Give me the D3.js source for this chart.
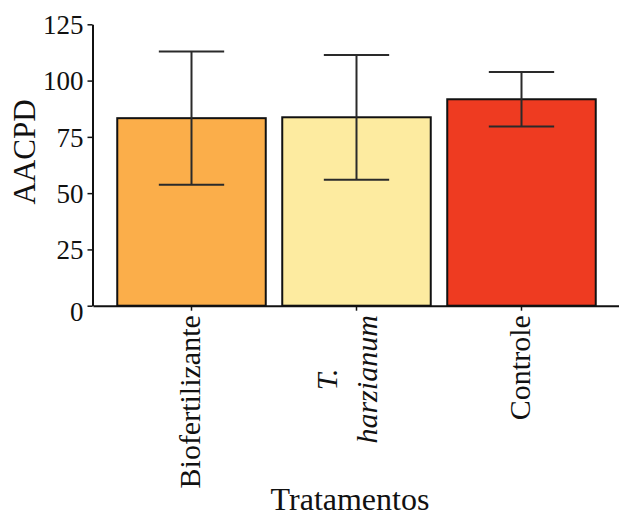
<!DOCTYPE html>
<html>
<head>
<meta charset="utf-8">
<script src="https://cdn.jsdelivr.net/npm/d3@7"></script>
<style>
  html, body { margin: 0; padding: 0; background: #ffffff; }
  svg { display: block; }
  svg text { font-family: "Liberation Serif", "DejaVu Serif", "Times New Roman", Times, serif !important; fill: #111; }
</style>
</head>
<body>
<svg id="chart" width="619" height="517"></svg>
<script>
// Treatments, mean AACPD and the error half-width for each bar
const categories = ["Biofertilizante", "T. harzianum", "Controle"];
const meanValues = [83.3, 83.7, 91.7];
const errorValues = [29.6, 27.7, 12.1];
const barColors = ["#FBAE4A", "#FDEBA0", "#EE3B21"];
// Tick label lines per category (the species name is set in italics)
const tickLabelLines = [["Biofertilizante"], ["T.", "harzianum"], ["Controle"]];
const tickLabelItalic = [false, true, false];
const yTicks = [0, 25, 50, 75, 100, 125];
const yTitle = "AACPD";
const xTitle = "Tratamentos";

const serif = '"Liberation Serif", "DejaVu Serif", "Times New Roman", Times, serif';
const svg = d3.select("#chart").attr("font-family", serif);
const axisY0 = 305.7;

const y = d3.scaleLinear().domain([0, 125]).range([axisY0, 24.3]);
const x = d3.scaleBand().domain(categories).range([93, 620])
  .paddingInner(0.1).paddingOuter(0.147);

const data = categories.map((c, i) => ({
  cat: c, mean: meanValues[i], err: errorValues[i], color: barColors[i],
  lines: tickLabelLines[i], italic: tickLabelItalic[i]
}));

// Bars
svg.append("g").selectAll("rect").data(data).join("rect")
  .attr("x", d => x(d.cat))
  .attr("y", d => y(d.mean))
  .attr("width", x.bandwidth())
  .attr("height", d => y(0) - y(d.mean))
  .attr("fill", d => d.color)
  .attr("stroke", "#111")
  .attr("stroke-width", 2);

// Error bars (mean ± error) with caps
const capW = x.bandwidth() * 0.44;
const eb = svg.append("g").attr("stroke", "#2a2a2a").attr("stroke-width", 2).attr("fill", "none");
data.forEach(d => {
  const cx = x(d.cat) + x.bandwidth() / 2;
  const hi = y(d.mean + d.err), lo = y(d.mean - d.err);
  eb.append("line").attr("x1", cx).attr("x2", cx).attr("y1", hi).attr("y2", lo);
  eb.append("line").attr("x1", cx - capW / 2).attr("x2", cx + capW / 2).attr("y1", hi).attr("y2", hi);
  eb.append("line").attr("x1", cx - capW / 2).attr("x2", cx + capW / 2).attr("y1", lo).attr("y2", lo);
});

// Y axis
const gy = svg.append("g").attr("transform", "translate(92.5,0)")
  .call(d3.axisLeft(y).tickValues(yTicks).tickSize(5).tickSizeOuter(0).tickPadding(4));
gy.attr("font-family", serif);
gy.select(".domain").attr("stroke", "#111").attr("stroke-width", 2);
gy.selectAll(".tick line").attr("stroke", "#111").attr("stroke-width", 1.5);
gy.selectAll(".tick text")
  .attr("font-family", serif)
  .style("font-size", "27px").attr("fill", "#111")
  .attr("dy", d => d === 0 ? "0.55em" : "0.34em");

// X axis
const gx = svg.append("g").attr("transform", `translate(0,${axisY0})`)
  .call(d3.axisBottom(x).tickSize(5).tickSizeOuter(0).tickFormat(""));
gx.attr("font-family", serif);
gx.select(".domain").attr("stroke", "#111").attr("stroke-width", 2);
gx.selectAll(".tick line").attr("stroke", "#111").attr("stroke-width", 1.5);

// Rotated category labels, end-aligned just below the axis
gx.selectAll(".tick").each(function (cat) {
  const d = data.find(e => e.cat === cat);
  const g = d3.select(this);
  const n = d.lines.length;
  const lineGap = 40;
  const texts = d.lines.map((line, k) => {
    const baseline = n === 1 ? 8.5 : (k - (n - 1) / 2) * lineGap;
    return g.append("text")
      .attr("transform", "rotate(-90)")
      .attr("y", baseline)
      .attr("font-family", serif)
      .style("font-size", "30px")
      .style("font-style", d.italic ? "italic" : "normal")
      .attr("fill", "#111")
      .text(line);
  });
  const maxLen = d3.max(texts, t => t.node().getComputedTextLength());
  texts.forEach(t => {
    t.attr("text-anchor", "middle").attr("x", -(9.5 + maxLen / 2));
  });
});

// Axis titles
svg.append("text")
  .attr("transform", "translate(35,152) rotate(-90)")
  .attr("text-anchor", "middle")
  .style("font-size", "31px")
  .text(yTitle);

svg.append("text")
  .attr("x", 350).attr("y", 510)
  .attr("text-anchor", "middle")
  .style("font-size", "32px")
  .text(xTitle);
</script>
</body>
</html>
